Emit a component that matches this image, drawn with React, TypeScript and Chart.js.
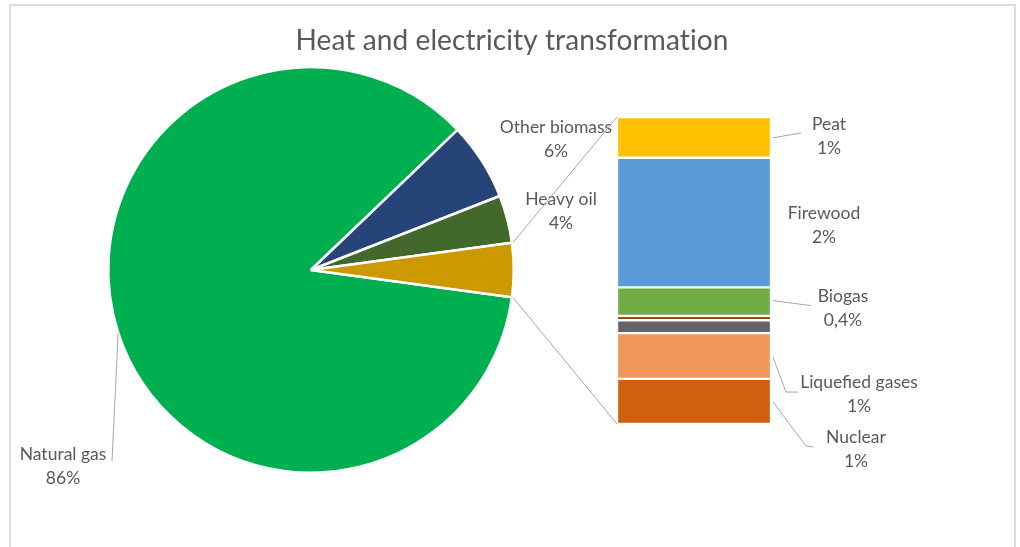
import React, { useEffect, useRef } from 'react';
import { Chart, registerables } from 'chart.js';

Chart.register(...registerables);

// ---------- data ----------
const TITLE = 'Heat and electricity transformation';
const pieCategories = ['Natural gas', 'Other biomass', 'Heavy oil'];
const pieValues = [85.7, 6.2, 3.8];
const otherSliceName = 'Other';
// bar of pie, bottom to top
const barCategories = ['Nuclear', 'Liquefied gases', 'Other fuel B', 'Other fuel A', 'Biogas', 'Firewood', 'Peat'];
const barValues = [0.63, 0.64, 0.18, 0.06, 0.4, 1.81, 0.57];
const barLabelled = [true, true, false, false, true, true, true];

// ---------- style ----------
const W = 1020;
const H = 547;
const FONT = "Lato, 'Open Sans', sans-serif";
const TEXT = '#595959';
const LEADER = '#A6A6A6';
const pieColors = ['#00AF50', '#264478', '#43682B', '#CC9900'];
const barColors = ['#D0600F', '#F0965A', '#636363', '#9E480E', '#70AD47', '#5B9BD5', '#FFC000'];

// layout paddings (pixel placement of plot areas)
const piePadding = { left: 107, top: 66, right: 505, bottom: 73 };
const barPadding = { left: 617, top: 117, right: 249, bottom: 123 };

// label placement relative to slice centre / segment right-edge centre
const pieLabelLayout: any[] = [
  { dx: -248, dy: 196.5, leaderAngle: 162, leaderEnd: [-199, 191] },
  { dx: 245, dy: -130.5 },
  { dx: 250, dy: -59 },
];
const barLabelLayout: any[] = [
  { dx: 85, dy: 47.5, leader: [[2, 0.5], [35, 44.5], [42, 45.5]] },
  { dx: 88, dy: 38, leader: [[2, 1], [15, 36], [27, 36]] },
  null,
  null,
  { dx: 72, dy: 7, leader: [[2, -1], [40, 4]] },
  { dx: 53, dy: 2.5 },
  { dx: 58, dy: -1.5, leader: [[2, 0.5], [30, -4.5]] },
];

const otherTotal = barValues.reduce((a, b) => a + b, 0);
const grandTotal = pieValues.reduce((a, b) => a + b, 0) + otherTotal;

function pct(v: number): string {
  const p = (v / grandTotal) * 100;
  if (p < 0.5) return p.toFixed(1).replace('.', ',') + '%';
  return Math.round(p) + '%';
}

function drawLabel(ctx: CanvasRenderingContext2D, name: string, value: string, x: number, y: number) {
  ctx.save();
  ctx.fillStyle = TEXT;
  ctx.font = `17.5px ${FONT}`;
  ctx.textAlign = 'center';
  ctx.textBaseline = 'middle';
  ctx.fillText(name, x, y - 12);
  ctx.fillText(value, x, y + 12);
  ctx.restore();
}

export default function App() {
  const barCanvas = useRef<HTMLCanvasElement>(null);
  const pieCanvas = useRef<HTMLCanvasElement>(null);

  useEffect(() => {
    const barLabelsPlugin = {
      id: 'barLabels',
      afterDraw(chart: any) {
        const ctx = chart.ctx as CanvasRenderingContext2D;
        barCategories.forEach((name, i) => {
          if (!barLabelled[i]) return;
          const lay = barLabelLayout[i];
          const el = chart.getDatasetMeta(i).data[0];
          const right = el.x + el.width / 2;
          const cy = (el.y + el.base) / 2;
          if (lay.leader) {
            ctx.save();
            ctx.strokeStyle = LEADER;
            ctx.lineWidth = 1;
            ctx.beginPath();
            lay.leader.forEach((p: number[], k: number) => {
              if (k === 0) ctx.moveTo(right + p[0], cy + p[1]);
              else ctx.lineTo(right + p[0], cy + p[1]);
            });
            ctx.stroke();
            ctx.restore();
          }
          drawLabel(ctx, name, pct(barValues[i]), right + lay.dx, cy + lay.dy);
        });
      },
    };

    const bar = new Chart(barCanvas.current!, {
      type: 'bar',
      data: {
        labels: [otherSliceName],
        datasets: barCategories.map((c, i) => ({
          label: c,
          data: [barValues[i]],
          backgroundColor: barColors[i],
          borderColor: '#FFFFFF',
          borderWidth: 1.5,
          borderSkipped: false,
          barPercentage: 1,
          categoryPercentage: 1,
          stack: 's',
        })),
      },
      options: {
        animation: false,
        responsive: false,
        devicePixelRatio: 1,
        layout: { padding: barPadding },
        plugins: { legend: { display: false }, tooltip: { enabled: false }, title: { display: false } },
        scales: {
          x: { display: false, stacked: true },
          y: { display: false, stacked: true, min: 0, max: otherTotal },
        },
      },
      plugins: [barLabelsPlugin],
    } as any);

    const rotation = 90 + (otherTotal / grandTotal) * 180;

    const piePlugin = {
      id: 'pieExtras',
      afterDraw(chart: any) {
        const ctx = chart.ctx as CanvasRenderingContext2D;
        // title
        ctx.save();
        ctx.fillStyle = TEXT;
        ctx.font = `28px ${FONT}`;
        (ctx as any).letterSpacing = '0.1px';
        ctx.textAlign = 'center';
        ctx.textBaseline = 'alphabetic';
        ctx.fillText(TITLE, 512, 50);
        ctx.restore();

        const arcs = chart.getDatasetMeta(0).data;
        const cx = arcs[0].x;
        const cy = arcs[0].y;
        const r = arcs[0].outerRadius;

        // slice labels
        pieCategories.forEach((name, i) => {
          const lay = pieLabelLayout[i];
          if (lay.leaderAngle !== undefined) {
            const a = (lay.leaderAngle * Math.PI) / 180;
            ctx.save();
            ctx.strokeStyle = LEADER;
            ctx.lineWidth = 1;
            ctx.beginPath();
            ctx.moveTo(cx + Math.cos(a) * r, cy + Math.sin(a) * r);
            ctx.lineTo(cx + lay.leaderEnd[0], cy + lay.leaderEnd[1]);
            ctx.stroke();
            ctx.restore();
          }
          drawLabel(ctx, name, pct(pieValues[i]), cx + lay.dx, cy + lay.dy);
        });

        // connectors from the "other" slice to the bar
        const other = arcs[pieCategories.length];
        const topEl = bar.getDatasetMeta(barCategories.length - 1).data[0] as any;
        const botEl = bar.getDatasetMeta(0).data[0] as any;
        const barLeft = topEl.x - topEl.width / 2;
        const barTop = topEl.y;
        const barBottom = botEl.base;
        const rr = r + 1;
        ctx.save();
        ctx.strokeStyle = LEADER;
        ctx.lineWidth = 1;
        ctx.beginPath();
        ctx.moveTo(cx + Math.cos(other.startAngle) * rr, cy + Math.sin(other.startAngle) * rr);
        ctx.lineTo(barLeft, barTop);
        ctx.moveTo(cx + Math.cos(other.endAngle) * rr, cy + Math.sin(other.endAngle) * rr);
        ctx.lineTo(barLeft, barBottom);
        ctx.stroke();
        ctx.restore();
      },
    };

    const pie = new Chart(pieCanvas.current!, {
      type: 'pie',
      data: {
        labels: [...pieCategories, otherSliceName],
        datasets: [
          {
            data: [...pieValues, otherTotal],
            backgroundColor: pieColors,
            borderColor: '#FFFFFF',
            borderWidth: 2.5,
            rotation,
          },
        ],
      },
      options: {
        animation: false,
        responsive: false,
        devicePixelRatio: 1,
        rotation,
        layout: { padding: piePadding },
        plugins: { legend: { display: false }, tooltip: { enabled: false }, title: { display: false } },
      },
      plugins: [piePlugin],
    } as any);

    return () => {
      pie.destroy();
      bar.destroy();
    };
  }, []);

  return (
    <div style={{ position: 'absolute', left: 0, top: 0, width: W, height: H, overflow: 'hidden', background: '#FFFFFF' }}>
      <div
        style={{
          position: 'absolute',
          left: 9,
          top: 4,
          width: 1007,
          height: 600,
          boxSizing: 'border-box',
          border: '2px solid #DCDCDC',
        }}
      />
      <canvas ref={barCanvas} width={W} height={H} style={{ position: 'absolute', left: 0, top: 0, width: W, height: H }} />
      <canvas ref={pieCanvas} width={W} height={H} style={{ position: 'absolute', left: 0, top: 0, width: W, height: H }} />
    </div>
  );
}
